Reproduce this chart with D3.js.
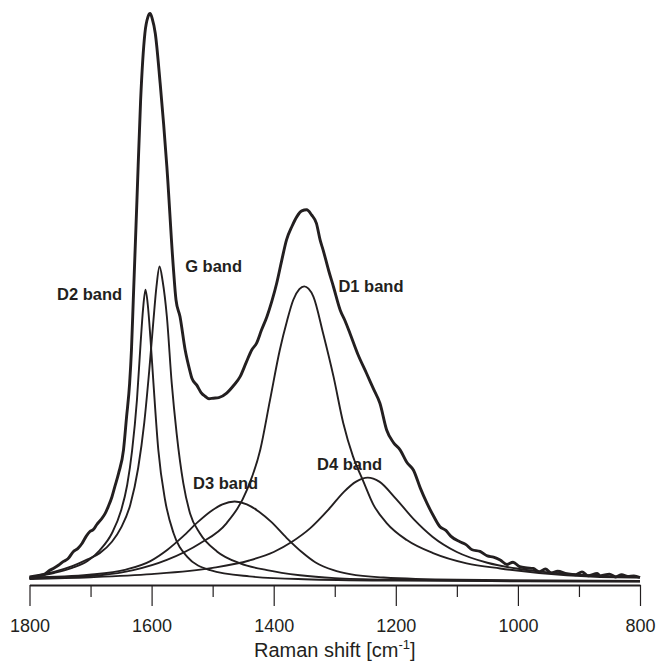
<!DOCTYPE html>
<html>
<head>
<meta charset="utf-8">
<script src="https://cdn.jsdelivr.net/npm/d3@7"></script>
<style>
  body { margin: 0; background: #ffffff; }
  svg { display: block; }
</style>
</head>
<body>
<div id="chart"></div>
<script>
// Raman spectrum: [wavenumber cm-1, intensity a.u.]
var measuredSpectrum = [[1800,0.6],[1794,0.6],[1785,1.0],[1775,1.3],[1768,1.9],[1761,2.3],[1752,2.9],[1745,3.5],[1737,4.0],[1728,5.3],[1721,5.8],[1714,6.7],[1707,8.0],[1701,8.8],[1695,9.2],[1690,10.0],[1683,10.9],[1676,12.0],[1671,13.2],[1665,14.9],[1660,16.8],[1654,19.1],[1646,23.2],[1641,29.0],[1636,34.9],[1633,40.8],[1630,49.6],[1627,58.4],[1624,67.2],[1618,84.8],[1611,96.6],[1606,99.5],[1602.5,100.1],[1599,99.2],[1594,96.6],[1586,87.8],[1575,73.1],[1564.5,55.5],[1560,49.6],[1553.5,46.7],[1545,40.8],[1537,37],[1534,35.8],[1526,34.6],[1519,33.3],[1512,32.6],[1506,32.2],[1499,32.3],[1490,32.4],[1477,33.2],[1466,34.5],[1455,36.1],[1445,38.6],[1436,40.8],[1428,42.0],[1420,44.3],[1411,46.7],[1403,49.4],[1395,52.6],[1387,56.5],[1379,60.2],[1370,62.6],[1362,64.3],[1354,65.3],[1346,65.5],[1338,64.6],[1330,63.1],[1324,60.2],[1319,58.4],[1310,54.8],[1302,51.9],[1291,47.8],[1283,45.9],[1275,43.7],[1262,40.0],[1248,36.7],[1236,33.8],[1226,31.4],[1215,26.7],[1204,24.5],[1193,23.2],[1182,21.0],[1171,19.6],[1160,16.5],[1149,13.8],[1138,11.5],[1128,9.7],[1118,9.0],[1110,8.0],[1095,7.0],[1085,6.5],[1075,5.6],[1062,5.3],[1050,4.5],[1040,4.3],[1029,3.8],[1018,3.0],[1008,3.4],[997,2.6],[985,2.4],[975,2.3],[965,1.7],[955,2.2],[945,1.5],[935,1.8],[920,1.4],[905,1.2],[895,1.7],[885,1.0],[870,1.4],[865,1.0],[850,1.3],[840,0.8],[830,1.2],[820,0.9],[810,1.0],[800,0.7]];

// Fitted bands
var bandD2 = [[1800,0.7],[1760,1.5],[1730,2.4],[1705,3.6],[1685,5.5],[1665,8.5],[1650,12.5],[1640,17],[1632,23],[1624,32],[1618,42],[1614,48],[1610,51.4],[1606,48.5],[1602,43],[1597,35],[1589,23.2],[1578,14.4],[1564,8.5],[1542,4.4],[1504,2.0],[1440,0.9],[1350,0.4],[1200,0.15],[1000,0.05],[800,0]];
var bandG = [[1800,0.9],[1760,1.7],[1730,2.7],[1705,3.9],[1685,5.0],[1665,7.0],[1650,9.5],[1635,13.5],[1622,20],[1612,28],[1604,37],[1597,46],[1592,52],[1587,55.5],[1582,53],[1575,46.7],[1567,34.9],[1559,26.1],[1548,17.3],[1537,12.0],[1521,8.5],[1493,5.3],[1455,3.2],[1411,2.0],[1357,1.1],[1300,0.6],[1200,0.3],[1000,0.1],[800,0.05]];
var bandD1 = [[1800,0.6],[1740,0.8],[1684,1.1],[1630,2.0],[1575,3.8],[1521,6.7],[1477,10.3],[1444,16.1],[1422,23.2],[1406,32.0],[1390,40.8],[1378,46],[1368,49.6],[1358,51.5],[1350,52.0],[1343,51.6],[1335,50.2],[1319,43.7],[1302,36.1],[1286,27.9],[1270,22.0],[1253,17.6],[1237,13.6],[1215,10.3],[1182,7.3],[1139,5.0],[1084,3.2],[1029,2.3],[920,1.1],[811,0.7],[800,0.7]];
var bandD3 = [[1800,0.7],[1702,1.2],[1642,2.1],[1602,3.6],[1574,5.6],[1549,7.9],[1524,10.5],[1504,12.3],[1484,13.6],[1464,14.1],[1444,13.6],[1424,12.3],[1404,10.5],[1379,7.7],[1354,5.2],[1332,3.4],[1302,2.0],[1275,1.3],[1220,0.7],[1100,0.3],[800,0.1]];
var bandD4 = [[1800,0.45],[1700,0.75],[1600,1.3],[1500,2.4],[1440,3.7],[1400,5.2],[1370,7.0],[1340,9.4],[1310,12.7],[1285,15.8],[1265,17.6],[1246,18.3],[1227,17.6],[1200,14.6],[1170,10.9],[1140,7.9],[1100,5.2],[1050,3.3],[1000,2.25],[950,1.6],[900,1.2],[850,0.95],[800,0.75]];

var bandLabels = ["D2 band", "G band", "D1 band", "D3 band", "D4 band"];
// label positions (left edge, baseline) in data units
var labelAnchors = [[1755, 49.6], [1545, 54.6], [1294, 51.0], [1532, 16.3], [1329, 19.6]];

var majorTicks = [1800, 1600, 1400, 1200, 1000, 800];
var minorTicks = [1700, 1500, 1300, 1100, 900];
var xTitle = "Raman shift [cm";
var xTitleSup = "-1";

var main = function ()
{
    "use strict";

    var width = 657, height = 663;
    var ink = "#231f20";
    var font = "Liberation Sans, Arial, sans-serif";

    var svg = d3.select("#chart").append("svg")
        .attr("width", width)
        .attr("height", height);

    // Reversed wavenumber axis, as usual for Raman spectra
    var x = d3.scaleLinear().domain([1800, 800]).range([29.5, 640]);
    var y = d3.scaleLinear().domain([0, 100]).range([581.5, 14]);

    var line = d3.line()
        .x(function(d) { return x(d[0]); })
        .y(function(d) { return y(d[1]); })
        .curve(d3.curveMonotoneX);

    // Component bands (thin)
    [bandD2, bandG, bandD1, bandD3, bandD4].forEach(function(band) {
        svg.append("path")
            .datum(band)
            .attr("fill", "none")
            .attr("stroke", ink)
            .attr("stroke-width", 1.9)
            .attr("stroke-linejoin", "round")
            .attr("d", line);
    });

    // Measured spectrum (thick)
    svg.append("path")
        .datum(measuredSpectrum)
        .attr("fill", "none")
        .attr("stroke", ink)
        .attr("stroke-width", 2.9)
        .attr("stroke-linejoin", "round")
        .attr("d", line);

    // Band labels
    svg.append("g")
        .selectAll("text")
        .data(bandLabels)
        .enter()
        .append("text")
        .attr("x", function(d, i) { return x(labelAnchors[i][0]); })
        .attr("y", function(d, i) { return y(labelAnchors[i][1]); })
        .attr("font-family", font)
        .attr("font-weight", "bold")
        .attr("font-size", 16.5)
        .attr("fill", ink)
        .text(function(d) { return d; });

    // X axis: labelled major ticks, short minor ticks
    var axisY = 585;
    var gMajor = svg.append("g")
        .attr("transform", "translate(0," + axisY + ")")
        .call(d3.axisBottom(x).tickValues(majorTicks).tickFormat(d3.format("d"))
            .tickSize(21).tickPadding(13).tickSizeOuter(0));
    gMajor.select(".domain").attr("stroke", ink).attr("stroke-width", 2);
    gMajor.selectAll(".tick line").attr("stroke", ink).attr("stroke-width", 1.2);
    gMajor.selectAll(".tick text")
        .attr("fill", ink)
        .attr("font-family", font)
        .attr("font-size", 18);

    var gMinor = svg.append("g")
        .attr("transform", "translate(0," + axisY + ")")
        .call(d3.axisBottom(x).tickValues(minorTicks).tickSize(12).tickFormat("").tickSizeOuter(0));
    gMinor.select(".domain").remove();
    gMinor.selectAll(".tick line").attr("stroke", ink).attr("stroke-width", 1.2);

    // Axis title with superscript
    var title = svg.append("text")
        .attr("x", (x.range()[0] + x.range()[1]) / 2)
        .attr("y", 657)
        .attr("text-anchor", "middle")
        .attr("font-family", font)
        .attr("font-size", 20)
        .attr("fill", ink);
    title.append("tspan").text(xTitle);
    title.append("tspan").attr("font-size", 13).attr("dy", -8).text(xTitleSup);
    title.append("tspan").attr("dy", 8).text("]");
}

main();
</script>
</body>
</html>
